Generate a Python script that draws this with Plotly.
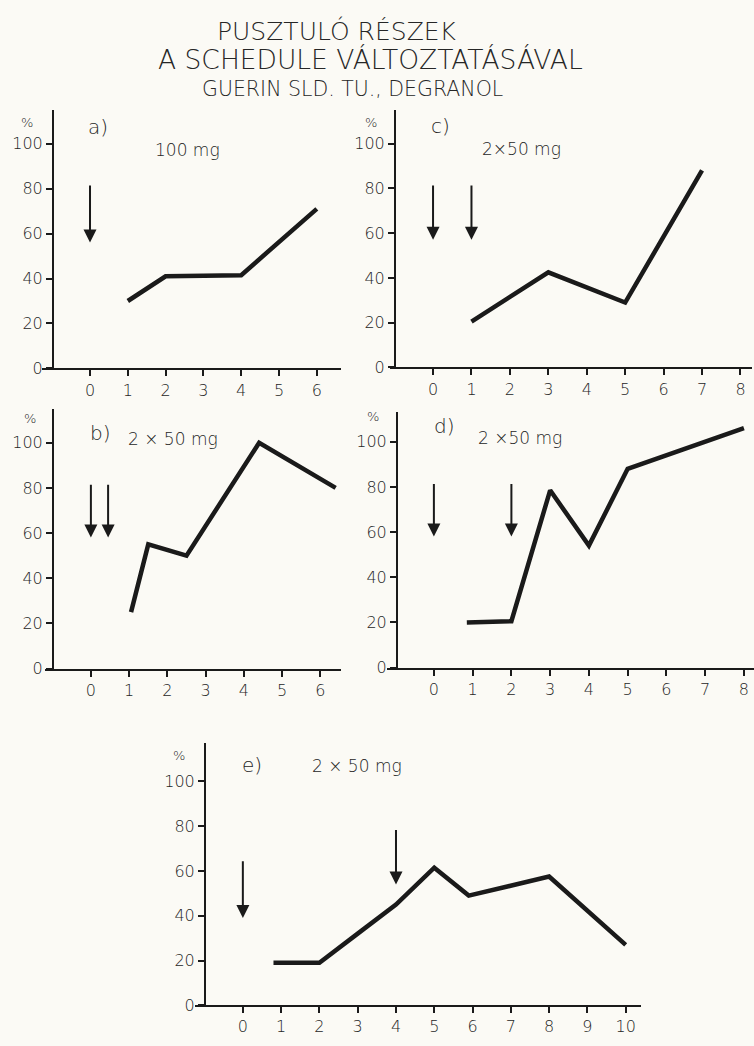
import plotly.graph_objects as go

W, H = 754, 1046
FONT = "DejaVu Sans"
INK = "#1a1a1a"
TXT = "#262626"

# ---------------- data ----------------
a_x = [1, 2, 4, 6]
a_y = [30, 41, 41.5, 71]
c_x = [1, 3, 5, 7]
c_y = [20.5, 42.5, 29, 88]
b_x = [1.05, 1.5, 2.5, 4.4, 6.4]
b_y = [25, 55, 50, 100, 80]
d_x = [0.85, 2, 3, 4, 5, 8]
d_y = [20, 20.5, 78.5, 54, 88, 106]
e_x = [0.8, 2, 3, 4, 5, 5.9, 8, 10]
e_y = [19, 19, 32, 45, 61.5, 49, 57.5, 27]

y_ticks = [0, 20, 40, 60, 80, 100]
a_xticks = [0, 1, 2, 3, 4, 5, 6]
c_xticks = [0, 1, 2, 3, 4, 5, 6, 7, 8]
b_xticks = [0, 1, 2, 3, 4, 5, 6]
d_xticks = [0, 1, 2, 3, 4, 5, 6, 7, 8]
e_xticks = [0, 1, 2, 3, 4, 5, 6, 7, 8, 9, 10]

# arrows: x position, top value, tip value
a_arrows = [(0, 82, 56)]
c_arrows = [(0, 82, 57), (1, 82, 57)]
b_arrows = [(0, 82, 58), (0.45, 82, 58)]
d_arrows = [(0, 82, 58), (2, 82, 58)]
e_arrows = [(0, 65, 39), (4, 79, 54)]

panel_labels = ["a)", "c)", "b)", "d)", "e)"]
dose_labels = ["100 mg", "2\u00d750 mg", "2 \u00d7 50 mg", "2 \u00d750 mg", "2 \u00d7 50 mg"]
title_lines = ["PUSZTULÓ RÉSZEK", "A SCHEDULE VÁLTOZTATÁSÁVAL", "GUERIN SLD. TU., DEGRANOL"]

# ---------------- layout geometry (pixels) ----------------
panels = [
    dict(xs=a_x, ys=a_y, xt=a_xticks, arrows=a_arrows, xpx=(42, 341), xr=(-1.27, 6.64),
         y0=372, ppu=2.27, ymax=115, yax=53, lab=(98, 128), dose=(187, 151), pct=(27, 124)),
    dict(xs=c_x, ys=c_y, xt=c_xticks, arrows=c_arrows, xpx=(390, 752), xr=(-1.12, 8.3),
         y0=371, ppu=2.26, ymax=115, yax=395, lab=(440, 127), dose=(521, 150), pct=(371, 124)),
    dict(xs=b_x, ys=b_y, xt=b_xticks, arrows=b_arrows, xpx=(45, 341), xr=(-1.2, 6.54),
         y0=675, ppu=2.28, ymax=115, yax=53, lab=(100, 437), dose=(173, 443), pct=(30, 423)),
    dict(xs=d_x, ys=d_y, xt=d_xticks, arrows=d_arrows, xpx=(387, 754), xr=(-1.21, 8.26),
         y0=674, ppu=2.28, ymax=113, yax=397, lab=(444, 430), dose=(520, 442), pct=(373, 421)),
    dict(xs=e_x, ys=e_y, xt=e_xticks, arrows=e_arrows, xpx=(195, 641), xr=(-1.25, 10.4),
         y0=1015, ppu=2.26, ymax=117, yax=205, lab=(252, 772), dose=(357, 773), pct=(179, 763)),
]

def px(x):
    return x / W

def py(y):
    return 1 - y / H

def text_ann(x, y, text, size, weight=300):
    return dict(x=px(x), y=py(y), xref="paper", yref="paper", text=text, showarrow=False,
                xanchor="center", yanchor="middle",
                font=dict(family=FONT, size=size, color=TXT, weight=weight))

fig = go.Figure()
annotations = []
layout = {}

for i, p in enumerate(panels):
    n = "" if i == 0 else str(i + 1)
    xa, ya = "x" + n, "y" + n
    fig.add_trace(go.Scatter(x=p["xs"], y=p["ys"], mode="lines", xaxis=xa, yaxis=ya,
                             line=dict(color=INK, width=4.5), showlegend=False,
                             hoverinfo="skip"))
    top_px = p["y0"] - p["ymax"] * p["ppu"]
    layout["xaxis" + n] = dict(
        domain=[px(p["xpx"][0]), px(p["xpx"][1])], range=list(p["xr"]), anchor=ya,
        showline=True, linecolor=INK, linewidth=2, showgrid=False, zeroline=False,
        tickmode="array", tickvals=p["xt"], ticktext=[str(v) for v in p["xt"]],
        ticks="outside", ticklen=6, tickwidth=1.5, tickcolor=INK,
        tickfont=dict(family=FONT, size=16, color=TXT, weight=300),
    )
    layout["yaxis" + n] = dict(
        domain=[py(p["y0"]), py(top_px)], range=[0, p["ymax"]], anchor="free",
        position=px(p["yax"]),
        showline=True, linecolor=INK, linewidth=2, showgrid=False, zeroline=False,
        tickmode="array", tickvals=y_ticks, ticktext=[str(v) for v in y_ticks],
        ticks="outside", ticklen=6, tickwidth=1.5, tickcolor=INK,
        tickfont=dict(family=FONT, size=16, color=TXT, weight=300),
    )
    for (ax_x, top, tip) in p["arrows"]:
        annotations.append(dict(x=ax_x, y=tip, ax=ax_x, ay=top, xref=xa, yref=ya,
                                axref=xa, ayref=ya, showarrow=True, arrowhead=2,
                                arrowsize=1.3, arrowwidth=2, arrowcolor=INK, text=""))
    annotations.append(text_ann(p["lab"][0], p["lab"][1], panel_labels[i], 20))
    annotations.append(text_ann(p["dose"][0], p["dose"][1], dose_labels[i], 17))
    annotations.append(text_ann(p["pct"][0], p["pct"][1], "%", 13))

title_pos = [(337, 31, 25), (370, 60, 26.5), (352, 90, 20.5)]
for t, (tx, ty, ts) in zip(title_lines, title_pos):
    annotations.append(text_ann(tx, ty, t, ts, weight=200))

fig.update_layout(width=W, height=H, margin=dict(l=0, r=0, t=0, b=0),
                  paper_bgcolor="#fbfaf5", plot_bgcolor="rgba(0,0,0,0)",
                  annotations=annotations, **layout)

fig.write_html("out.html", config={"displayModeBar": False},
               post_script="document.body.style.margin='0px';")
